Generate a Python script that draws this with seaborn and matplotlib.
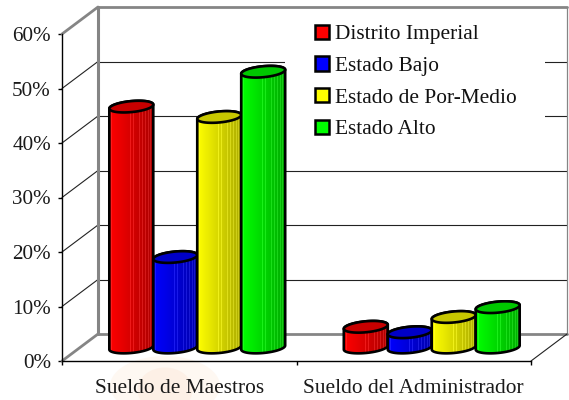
import numpy as np
import pandas as pd
import seaborn as sb
import matplotlib
matplotlib.use('Agg')
import matplotlib.pyplot as plt
from matplotlib.path import Path
from matplotlib.patches import PathPatch, Rectangle, Ellipse
from matplotlib.transforms import ScaledTranslation, IdentityTransform

# datos
categorias = ['Sueldo de Maestros', 'Sueldo del Administrador']
series = ['Distrito Imperial', 'Estado Bajo', 'Estado de Por-Medio', 'Estado Alto']
maestros = [44.2, 16.6, 42.3, 50.6]
administrador = [3.8, 2.8, 5.6, 7.4]
colores = ['#ff0000', '#0000ff', '#ffff00', '#00ff00']
y_ticks = [0, 10, 20, 30, 40, 50, 60]
y_labels = ['0%', '10%', '20%', '30%', '40%', '50%', '60%']

sb.set_style('white')
plt.rcParams['font.family'] = ['Liberation Serif', 'DejaVu Serif']

df = pd.DataFrame({
    'categoria': [categorias[0]] * 4 + [categorias[1]] * 4,
    'serie': series + series,
    'valor': maestros + administrador,
})

fig = plt.figure(figsize=(5.69, 4), dpi=100)
ax = fig.add_axes([62 / 569, 39 / 400, 469 / 569, 327 / 400])

sb.barplot(data=df, x='categoria', y='valor', hue='serie', hue_order=series,
           order=categorias, palette=colores, width=0.75, gap=0, saturation=1,
           linewidth=0, ax=ax)

# profundidad del "3D": pared del fondo y centro de las barras
px = fig.dpi_scale_trans
fondo = ax.transData + ScaledTranslation(0.36, 0.27, px)
medio = ax.transData + ScaledTranslation(0.18, 0.135, px)
px_y = 60 / 327  # unidades de datos por pixel
gris = '#858585'
x0, x1 = -0.5, 1.5

for t in y_ticks:
    borde = t in (0, 60)
    c = gris if borde else '#222222'
    lw = 2 if borde else 0.8
    ax.plot([x0, x1], [t, t], transform=fondo, color=c, lw=lw, clip_on=False, zorder=1)
    # diagonal de la pared izquierda, del frente al fondo
    dy = 27 * px_y
    dx = 36 / 469 * 2
    ax.plot([x0, x0 + dx], [t, t + dy], color=c, lw=lw, clip_on=False, zorder=1)

ax.plot([x0, x0], [0, 60], transform=fondo, color=gris, lw=2.2, clip_on=False, zorder=1)
ax.plot([x1, x1], [0, 60], transform=fondo, color=gris, lw=0.9, clip_on=False, zorder=1)
ax.plot([x1, x1 + 36 / 469 * 2], [0, 27 * px_y], color='#222222', lw=0.8, clip_on=False, zorder=1)

# recuadro blanco detras de la leyenda, corta las lineas de la rejilla
ax.add_patch(Rectangle((285, 250), 260, 141, transform=IdentityTransform(),
                       fc='white', ec='none', clip_on=False, zorder=1.5))


def sombra(color, n=44):
    base = np.array(matplotlib.colors.to_rgb(color))
    s = np.linspace(1.0, 0.68, n)
    fila = base[None, :] * s[:, None]
    # rayas claras del degradado
    for i in [2, 21, 24, 30, 33, 36, 39, 41]:
        fila[i] = np.clip(fila[i] + 0.10, 0, 1)
    return fila[None, :, :]


def elipse(cx, cy, rx, ry, inc, t):
    return np.column_stack([cx + rx * np.cos(t), cy + ry * np.sin(t) + inc * np.cos(t)])


ry = 5.5 * px_y
inc = 2 * px_y
for i, cont in enumerate(ax.containers):
    for barra in cont:
        barra.set_transform(medio)
        barra.set_zorder(2)
        x, w, h = barra.get_x(), barra.get_width(), barra.get_height()
        cx = x + w / 2
        abajo = elipse(cx, 0, w / 2, ry, inc, np.linspace(np.pi, 2 * np.pi, 40))
        arriba = elipse(cx, h, w / 2, ry, inc, np.linspace(0, np.pi, 40))
        cuerpo = Path(np.vstack([abajo, arriba, abajo[:1]]), closed=True)
        z = 3 + i
        im = ax.imshow(sombra(colores[i]), extent=[x, x + w, -ry - inc, h + ry + inc],
                       aspect='auto', interpolation='nearest', zorder=z)
        im.set_transform(medio)
        im.set_clip_path(cuerpo, medio)
        im.set_clip_on(True)
        ax.add_patch(PathPatch(cuerpo, fc='none', ec='black', lw=1.9, transform=medio,
                               clip_on=False, zorder=z))
        tapa = elipse(cx, h, w / 2, ry, inc, np.linspace(0, 2 * np.pi, 80))
        oscuro = np.array(matplotlib.colors.to_rgb(colores[i])) * 0.78
        ax.add_patch(PathPatch(Path(tapa, closed=True), fc=oscuro, ec='black', lw=1.9,
                               transform=medio, clip_on=False, zorder=z))

ax.set_xlim(x0, x1)
ax.set_ylim(0, 60)
ax.set_xlabel('')
ax.set_ylabel('')
ax.set_yticks(y_ticks, y_labels)
ax.set_xticks([x0, 0.5, x1], minor=True)
ax.patch.set_visible(False)
ax.grid(False)
sb.despine(ax=ax)
for lado in ('left', 'bottom'):
    ax.spines[lado].set_color('black')
    ax.spines[lado].set_linewidth(1)
    ax.spines[lado].set_zorder(2)
ax.tick_params(axis='y', length=3, width=1, color='black', left=True, labelsize=15.2,
               labelcolor='#1a1a1a', pad=5)
ax.tick_params(axis='x', which='major', length=0, labelsize=15.4, labelcolor='#1a1a1a', pad=13)
ax.tick_params(axis='x', which='minor', length=3, width=1, color='black', bottom=True)

leg = ax.legend(loc='upper left', bbox_to_anchor=(315 / 569, 1 - 24.5 / 400),
                bbox_transform=fig.transFigure, frameon=False, fontsize=15.4,
                handlelength=0.66, handleheight=0.66, handletextpad=0.26,
                labelspacing=0.56, borderpad=0, borderaxespad=0, title=None)
leg.set_zorder(20)
for h in leg.legend_handles:
    h.set_edgecolor('black')
    h.set_linewidth(1.8)
for t in leg.get_texts():
    t.set_color('#111111')

# mancha clara de fondo bajo el eje
fig.add_artist(Ellipse((165, 14), 110, 60, transform=IdentityTransform(), fc='#fef8f2', ec='none', zorder=-2))
fig.add_artist(Ellipse((165, 10), 55, 45, transform=IdentityTransform(), fc='#fdf0e6', ec='none', zorder=-1))

fig.savefig('out.png', dpi=100)
